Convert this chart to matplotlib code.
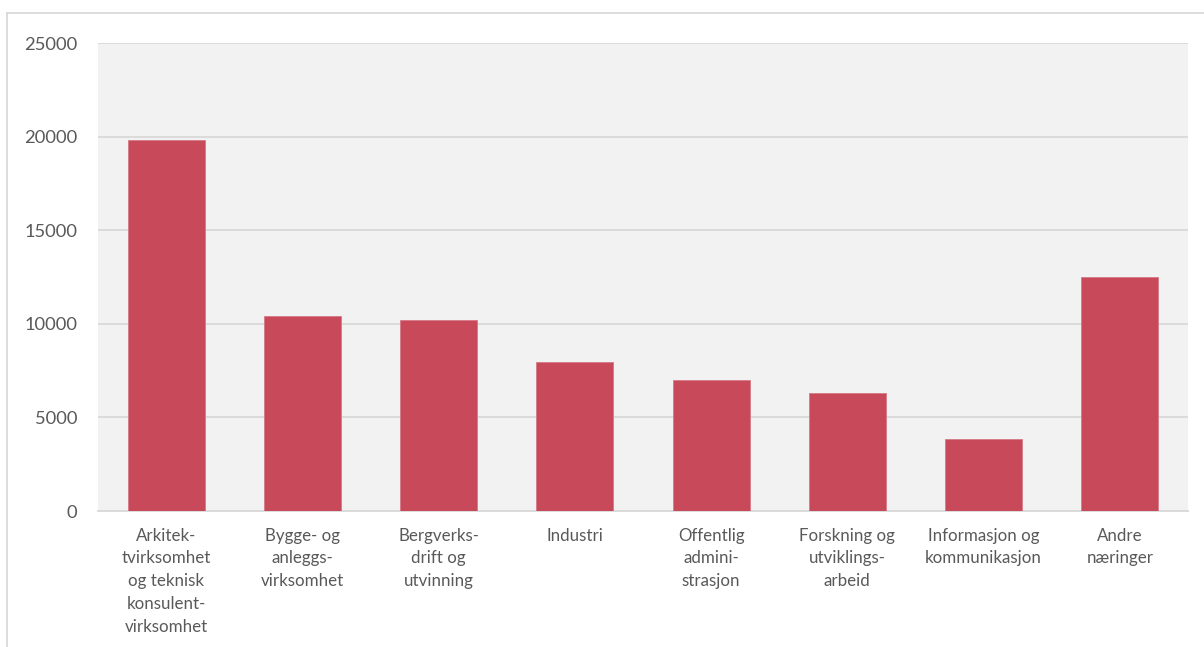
import matplotlib
matplotlib.use("Agg")
import matplotlib.pyplot as plt
from matplotlib.lines import Line2D

categories = [
    "Arkitek-\ntvirksomhet\nog teknisk\nkonsulent-\nvirksomhet",
    "Bygge- og\nanleggs-\nvirksomhet",
    "Bergverks-\ndrift og\nutvinning",
    "Industri",
    "Offentlig\nadmini-\nstrasjon",
    "Forskning og\nutviklings-\narbeid",
    "Informasjon og\nkommunikasjon",
    "Andre\nnæringer",
]
values = [19800, 10400, 10200, 7950, 7000, 6300, 3850, 12500]
yticks = [0, 5000, 10000, 15000, 20000, 25000]

plt.rcParams['font.family'] = ['Lato', 'DejaVu Sans']

fig = plt.figure(figsize=(12.04, 6.47), dpi=100)
ax = fig.add_axes([98/1204, 1-511/647, 1090/1204, 468/647])
ax.set_facecolor('#f2f2f2')

x = range(len(categories))
ax.bar(x, values, width=0.565, color='#c84a5a', edgecolor='#d67a86', linewidth=0.6, zorder=3)

ax.set_ylim(0, 25000)
ax.set_xlim(-0.5, len(categories) - 0.5)
ax.set_yticks(yticks)
ax.set_yticklabels([str(v) for v in yticks])
ax.grid(axis='y', color='#d9d9d9', linewidth=1.3, zorder=0)
ax.set_axisbelow(True)
for s in ['top', 'right', 'left']:
    ax.spines[s].set_visible(False)
ax.spines['bottom'].set_color('#d9d9d9')
ax.spines['bottom'].set_linewidth(1.3)

ax.set_xticks(list(x))
ax.set_xticklabels(categories, fontsize=12.2, color='#595959', linespacing=1.52)
ax.tick_params(axis='x', length=0, pad=12)
ax.tick_params(axis='y', length=0, pad=15, labelsize=13.2, labelcolor='#595959')

# outer chart frame (top and left edges visible)
fig.add_artist(Line2D([7/1204, 1.0], [1-13/647, 1-13/647], color='#d9d9d9', linewidth=1.3, transform=fig.transFigure))
fig.add_artist(Line2D([7/1204, 7/1204], [0.0, 1-13/647], color='#d9d9d9', linewidth=1.3, transform=fig.transFigure))

fig.savefig('out.png', dpi=100)
